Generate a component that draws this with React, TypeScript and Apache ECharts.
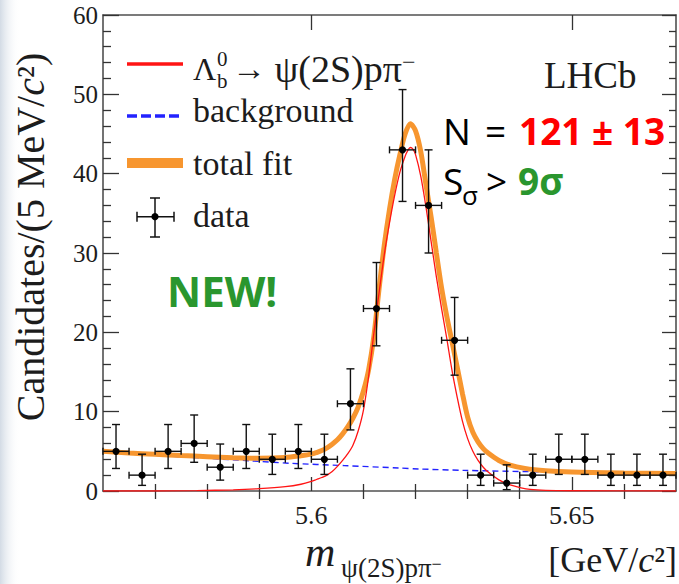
import { useEffect, useRef } from "react";
import * as echarts from "echarts";

// 5 MeV/c^2 bins between 5.56 and 5.67 GeV/c^2
const binCenters = [
  5.5625, 5.5675, 5.5725, 5.5775, 5.5825, 5.5875, 5.5925, 5.5975, 5.6025, 5.6075, 5.6125,
  5.6175, 5.6225, 5.6275, 5.6325, 5.6375, 5.6425, 5.6475, 5.6525, 5.6575, 5.6625, 5.6675,
];
const binHalfWidth = 0.0025;
const counts = [5, 2, 5, 6, 3, 5, 4, 5, 4, 11, 23, 43, 36, 19, 2, 1, 2, 4, 4, 2, 2, 2];
// Poisson interval edges per bin
const countsLow = [
  2.84, 0.71, 2.84, 3.62, 1.37, 2.84, 2.09, 2.84, 2.09, 7.7, 18.3, 36.5, 30.0, 14.6, 0.71,
  0.17, 0.71, 2.09, 2.09, 0.71, 0.71, 0.71,
];
const countsHigh = [
  8.38, 4.64, 8.38, 9.58, 5.92, 8.38, 7.16, 8.38, 7.16, 15.4, 28.8, 50.6, 43.0, 24.4, 4.64,
  3.3, 4.64, 7.16, 7.16, 4.64, 4.64, 4.64,
];

// Fit curves sampled along the mass axis: [mass, candidates]
const totalFit: [number, number][] = [
  [5.56, 5.0], [5.565, 4.8], [5.57, 4.62], [5.575, 4.47], [5.58, 4.33], [5.585, 4.2],
  [5.59, 4.13], [5.595, 4.22], [5.598, 4.45], [5.6, 4.65], [5.601, 4.85], [5.602, 5.1],
  [5.603, 5.45], [5.604, 5.9], [5.605, 6.45], [5.606, 7.2], [5.607, 8.1], [5.608, 9.2],
  [5.609, 10.6], [5.61, 12.6], [5.611, 15.3], [5.612, 19.5], [5.613, 25.5], [5.614, 31.0],
  [5.615, 35.5], [5.616, 39.3], [5.617, 42.4], [5.618, 45.0], [5.619, 46.3], [5.62, 45.4],
  [5.621, 42.8], [5.622, 38.6], [5.623, 34.5], [5.624, 30.0], [5.625, 25.6], [5.626, 22.0],
  [5.627, 18.8], [5.628, 15.6], [5.629, 12.3], [5.63, 9.3], [5.631, 7.4], [5.632, 6.2],
  [5.633, 5.35], [5.634, 4.75], [5.636, 3.85], [5.638, 3.3], [5.641, 2.85], [5.645, 2.55],
  [5.65, 2.38], [5.66, 2.26], [5.67, 2.2],
];
const signalFit: [number, number][] = [
  [5.56, 0.0], [5.57, 0.0], [5.578, 0.05], [5.585, 0.15], [5.59, 0.3], [5.595, 0.55],
  [5.598, 0.85], [5.6, 1.2], [5.601, 1.45], [5.602, 1.7], [5.603, 2.0], [5.604, 2.45],
  [5.605, 3.1], [5.606, 3.85], [5.607, 4.7], [5.608, 5.8], [5.609, 7.6], [5.61, 10.2],
  [5.611, 14.5], [5.612, 19.9], [5.613, 25.0], [5.614, 29.8], [5.615, 33.8], [5.616, 37.3],
  [5.617, 40.2], [5.618, 42.2], [5.6185, 42.9], [5.619, 43.3], [5.6195, 43.1], [5.62, 42.4],
  [5.621, 39.7], [5.622, 35.8], [5.623, 31.4], [5.624, 27.0], [5.625, 23.0], [5.626, 19.2],
  [5.627, 15.2], [5.628, 11.8], [5.629, 8.8], [5.63, 6.6], [5.631, 5.0], [5.632, 3.85],
  [5.633, 3.0], [5.634, 2.35], [5.636, 1.4], [5.638, 0.8], [5.642, 0.2], [5.65, 0.03],
  [5.67, 0.0],
];
const backgroundFit: [number, number][] = [
  [5.56, 4.95], [5.57, 4.5], [5.58, 4.12], [5.5884, 3.8], [5.5957, 3.5], [5.6063, 3.2],
  [5.6168, 2.9], [5.6206, 2.78], [5.6293, 2.6], [5.6455, 2.4], [5.67, 2.2],
];

const xMajorTicks = [5.6, 5.65];
const xMinorTicks = [5.57, 5.58, 5.59, 5.61, 5.62, 5.63, 5.64, 5.66];

const SERIF = "'Liberation Serif', 'Times New Roman', serif";
const SANS = "'Open Sans', 'Noto Sans', sans-serif";
const INK = "#1c1c1c";
const ORANGE = "#f7962f";
const RED = "#ff1414";
const BLUE = "#2323ff";
const GREEN = "#2a962e";
const AXIS = "#505050";

function txt(
  x: number,
  y: number,
  text: string,
  size: number,
  opts: { family?: string; color?: string; weight?: string; italic?: boolean; align?: string } = {}
) {
  const align = opts.align || "left";
  return {
    type: "text",
    z: 10,
    style: {
      x,
      y,
      text,
      fill: opts.color || INK,
      fontSize: size,
      fontFamily: opts.family || SERIF,
      fontWeight: opts.weight || "normal",
      fontStyle: opts.italic ? "italic" : "normal",
      align,
      textAlign: align,
      verticalAlign: "middle",
      textVerticalAlign: "middle",
    },
  };
}

// text with a raised trailing token (e.g. a charge sign)
function richTxt(x: number, y: number, text: string, rich: Record<string, any>, align = "left") {
  return {
    type: "text",
    z: 10,
    style: {
      x,
      y,
      text,
      fill: INK,
      align,
      textAlign: align,
      verticalAlign: "middle",
      textVerticalAlign: "middle",
      rich,
    },
  };
}

function line(x1: number, y1: number, x2: number, y2: number, stroke: string, lineWidth: number, lineDash?: number[]) {
  return {
    type: "line",
    z: 10,
    shape: { x1, y1, x2, y2 },
    style: { stroke, lineWidth, lineDash },
  };
}

export default function App() {
  const ref = useRef<HTMLDivElement>(null);

  useEffect(() => {
    if (!ref.current) return;
    const chart = echarts.init(ref.current, undefined, { renderer: "svg" });

    const pointData = binCenters.map((m, i) => [m, counts[i], countsLow[i], countsHigh[i]]);

    const xBase = {
      type: "value",
      min: 5.56,
      max: 5.67,
      gridIndex: 0,
      splitLine: { show: false },
      axisLine: { show: false },
      axisLabel: { show: false },
    };
    const yBase = {
      type: "value",
      min: 0,
      max: 60,
      interval: 10,
      splitLine: { show: false },
      minorSplitLine: { show: false },
    };
    const axisLineStyle = { color: AXIS, width: 1.6 };
    const tickStyle = { color: "#333", width: 1.3 };

    // legend sample for "data"
    const lx = 155;
    const ly = 216.7;

    const serifStyle = (size: number, italic = false) => ({
      fontFamily: SERIF,
      fontSize: size,
      fontStyle: italic ? "italic" : "normal",
      color: INK,
    });

    chart.setOption({
      animation: false,
      backgroundColor: "#ffffff",
      textStyle: { fontFamily: SERIF },
      grid: { left: 103, right: 3, top: 15, bottom: 93 },
      xAxis: [
        {
          ...xBase,
          position: "bottom",
          axisLine: { show: true, onZero: false, lineStyle: axisLineStyle },
          axisTick: { show: true, inside: true, length: 14, customValues: xMajorTicks, lineStyle: tickStyle },
          axisLabel: {
            show: true,
            customValues: xMajorTicks,
            formatter: (v: number) => String(Math.round(v * 100) / 100),
            fontFamily: SERIF,
            fontSize: 26,
            color: INK,
            margin: 11,
          },
        },
        {
          ...xBase,
          position: "bottom",
          axisTick: { show: true, inside: true, length: 7, customValues: xMinorTicks, lineStyle: tickStyle },
        },
        {
          ...xBase,
          position: "top",
          axisLine: { show: true, onZero: false, lineStyle: axisLineStyle },
          axisTick: { show: true, inside: true, length: 15, customValues: xMajorTicks, lineStyle: tickStyle },
        },
        {
          ...xBase,
          position: "top",
          axisTick: { show: true, inside: true, length: 8, customValues: xMinorTicks, lineStyle: tickStyle },
        },
      ],
      yAxis: [
        {
          ...yBase,
          position: "left",
          axisLine: { show: true, onZero: false, lineStyle: axisLineStyle },
          axisTick: { show: true, inside: true, length: 16, lineStyle: tickStyle },
          minorTick: { show: true, splitNumber: 5, length: 8, lineStyle: tickStyle },
          axisLabel: {
            show: true,
            fontFamily: SERIF,
            fontSize: 25,
            color: INK,
            margin: 5,
            padding: [7, 0, 0, 0],
          },
        },
        {
          ...yBase,
          position: "right",
          axisLine: { show: true, onZero: false, lineStyle: axisLineStyle },
          axisTick: { show: true, inside: true, length: 14, lineStyle: tickStyle },
          minorTick: { show: true, splitNumber: 5, length: 7, lineStyle: tickStyle },
          axisLabel: { show: false },
        },
      ],
      series: [
        {
          name: "background",
          type: "line",
          data: backgroundFit,
          xAxisIndex: 0,
          yAxisIndex: 0,
          showSymbol: false,
          smooth: 0.3,
          lineStyle: { color: BLUE, width: 1.4, type: [6, 4] },
          z: 2,
        },
        {
          name: "total fit",
          type: "line",
          data: totalFit,
          xAxisIndex: 0,
          yAxisIndex: 0,
          showSymbol: false,
          smooth: 0.3,
          lineStyle: { color: ORANGE, width: 5 },
          z: 3,
        },
        {
          name: "signal",
          type: "line",
          data: signalFit,
          xAxisIndex: 0,
          yAxisIndex: 0,
          showSymbol: false,
          smooth: 0.3,
          lineStyle: { color: RED, width: 1.3 },
          z: 4,
        },
        {
          name: "data",
          type: "custom",
          xAxisIndex: 0,
          yAxisIndex: 0,
          data: pointData,
          encode: { x: 0, y: 1 },
          z: 5,
          clip: false,
          renderItem: (_params: any, api: any) => {
            const m = api.value(0);
            const v = api.value(1);
            const c = api.coord([m, v]);
            const l = api.coord([m - binHalfWidth, v]);
            const r = api.coord([m + binHalfWidth, v]);
            const t = api.coord([m, api.value(3)]);
            const b = api.coord([m, api.value(2)]);
            const st = { stroke: "#111", lineWidth: 1.4 };
            const cap = 4;
            const hcap = 3.5;
            return {
              type: "group",
              children: [
                { type: "line", shape: { x1: c[0], y1: t[1], x2: c[0], y2: b[1] }, style: st },
                { type: "line", shape: { x1: c[0] - cap, y1: t[1], x2: c[0] + cap, y2: t[1] }, style: st },
                { type: "line", shape: { x1: c[0] - cap, y1: b[1], x2: c[0] + cap, y2: b[1] }, style: st },
                { type: "line", shape: { x1: l[0], y1: c[1], x2: r[0], y2: c[1] }, style: st },
                { type: "line", shape: { x1: l[0], y1: c[1] - hcap, x2: l[0], y2: c[1] + hcap }, style: st },
                { type: "line", shape: { x1: r[0], y1: c[1] - hcap, x2: r[0], y2: c[1] + hcap }, style: st },
                { type: "circle", shape: { cx: c[0], cy: c[1], r: 3.6 }, style: { fill: "#000" } },
              ],
            };
          },
        },
      ],
      graphic: [
        // soft slide edge on the left
        {
          type: "rect",
          z: -10,
          shape: { x: 0, y: 0, width: 20, height: 584 },
          style: {
            fill: new echarts.graphic.LinearGradient(0, 0, 1, 0, [
              { offset: 0, color: "rgba(206,215,226,0.9)" },
              { offset: 1, color: "rgba(255,255,255,0)" },
            ]),
          },
        },
        // y-axis title
        {
          type: "text",
          z: 10,
          x: 30,
          y: 237,
          rotation: Math.PI / 2,
          style: {
            x: 0,
            y: 0,
            text: "{r|Candidates/(5 MeV/}{i|c}{r|²)}",
            align: "center",
            textAlign: "center",
            verticalAlign: "middle",
            textVerticalAlign: "middle",
            fill: INK,
            rich: { r: serifStyle(40), i: serifStyle(40, true) },
          },
        },
        // x-axis title
        txt(305, 552, "m", 42, { italic: true }),
        richTxt(341, 568, "{s|ψ(2S)pπ}{u|−}", {
          s: serifStyle(27),
          u: { ...serifStyle(18), verticalAlign: "top" },
        }),
        richTxt(677, 560, "{r|[GeV/}{i|c}{r|²]}", { r: serifStyle(36), i: serifStyle(36, true) }, "right"),
        // legend
        line(127, 64, 183, 64, RED, 3.5),
        txt(193, 68.5, "Λ", 32),
        txt(217, 58.5, "0", 21),
        txt(217, 81, "b", 21),
        richTxt(232, 68.5, "{a|→ }{s|ψ(2S)pπ}{u|−}", {
          a: serifStyle(34),
          s: serifStyle(38),
          u: { ...serifStyle(24), verticalAlign: "top" },
        }),
        line(127, 116, 182, 116, BLUE, 3.5, [10, 4]),
        txt(193, 110.5, "background", 34),
        { type: "rect", z: 10, shape: { x: 127, y: 158, width: 56, height: 10 }, style: { fill: ORANGE } },
        txt(193, 163.5, "total fit", 34),
        line(lx, 198, lx, 237, "#111", 1.5),
        line(lx - 5, 198, lx + 5, 198, "#111", 1.5),
        line(lx - 5, 237, lx + 5, 237, "#111", 1.5),
        line(137, ly, 174, ly, "#111", 1.5),
        line(137, ly - 5, 137, ly + 5, "#111", 1.5),
        line(174, ly - 5, 174, ly + 5, "#111", 1.5),
        { type: "circle", z: 10, shape: { cx: lx, cy: ly, r: 3.6 }, style: { fill: "#000" } },
        txt(193, 215.5, "data", 34),
        // experiment tag and annotations
        txt(544, 75.5, "LHCb", 37),
        txt(443, 130.6, "N", 37, { family: SANS, color: "#000" }),
        txt(485, 130.6, "=", 37, { family: SANS, color: "#000" }),
        txt(519, 130.6, "121 ± 13", 37, { family: SANS, color: "#ff0000", weight: "bold" }),
        txt(443, 180.6, "S", 37, { family: SANS, color: "#000" }),
        txt(462, 195, "σ", 26, { family: SANS, color: "#000" }),
        txt(486, 180.6, ">", 37, { family: SANS, color: "#000" }),
        txt(518, 180.6, "9σ", 37, { family: SANS, color: GREEN, weight: "bold" }),
        txt(167, 290.7, "NEW!", 42, { family: SANS, color: GREEN, weight: "bold" }),
      ],
    });

    return () => chart.dispose();
  }, []);

  return (
    <div
      ref={ref}
      style={{ position: "fixed", left: 0, top: 0, width: 679, height: 584, background: "#fff" }}
    />
  );
}
